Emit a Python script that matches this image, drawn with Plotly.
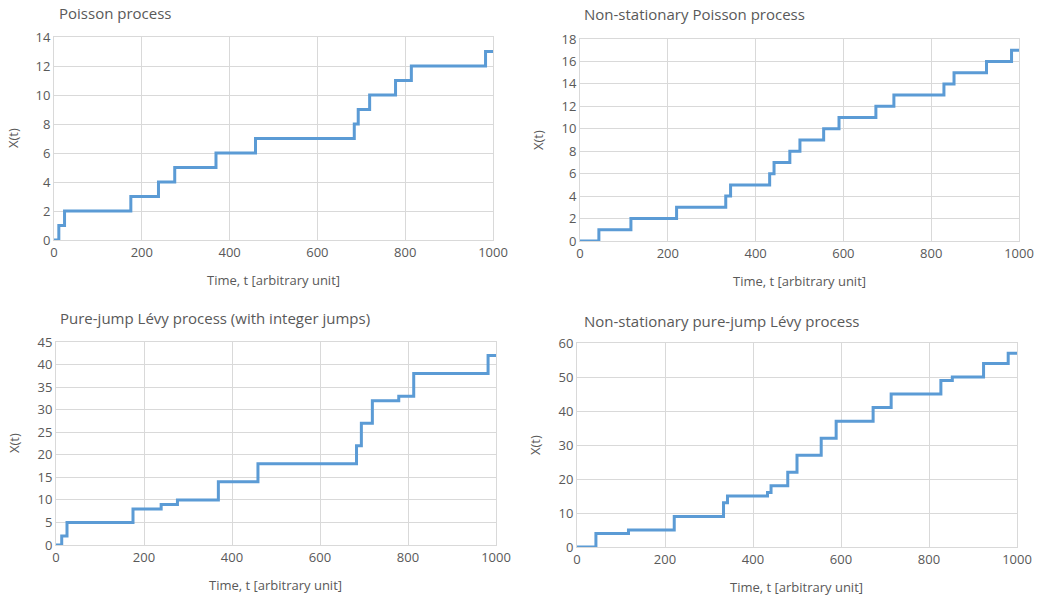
import plotly.graph_objects as go

# ---- data ----
poisson_times = [11, 24, 175, 238, 275, 369, 459, 684, 693, 719, 778, 814, 983]
poisson_values = [0, 1, 2, 3, 4, 5, 6, 7, 8, 9, 10, 11, 12, 13]

levy_times = [13, 25, 175, 239, 276, 369, 459, 683, 694, 719, 779, 813, 982]
levy_values = [0, 2, 5, 8, 9, 10, 14, 18, 22, 27, 32, 33, 38, 42]

ns_poisson_times = [43, 116, 220, 332, 343, 432, 442, 478, 501, 555, 590, 674, 715, 829, 852, 926, 983]
ns_poisson_values = [0, 1, 2, 3, 4, 5, 6, 7, 8, 9, 10, 11, 12, 13, 14, 15, 16, 17]

ns_levy_times = [43, 117, 221, 333, 342, 433, 441, 479, 500, 555, 589, 673, 714, 827, 853, 924, 980]
ns_levy_values = [0, 4, 5, 9, 13, 15, 16, 18, 22, 27, 32, 37, 41, 45, 49, 50, 54, 57]

t_end = 1000
titles = ["Poisson process", "Non-stationary Poisson process",
          "Pure-jump Lévy process (with integer jumps)", "Non-stationary pure-jump Lévy process"]
x_title = "Time, t [arbitrary unit]"
y_title = "X(t)"
x_ticks = [0, 200, 400, 600, 800, 1000]

W, H = 1039, 597
FONT = "Open Sans, Noto Sans, sans-serif"
TXT = "#595959"
GRID = "#D9D9D9"
LINE = "#5B9BD5"


def fx(px):
    return px / W


def fy(py):
    return 1 - py / H


# panel window-pixel boxes: (left, right, top, bottom), y-range, dtick, text positions
panels = [
    dict(times=poisson_times, vals=poisson_values, box=(54, 493, 37, 240), ymax=14, dy=2,
         tpos=(57, 13), xt=(273, 280), yt=(13, 138)),
    dict(times=ns_poisson_times, vals=ns_poisson_values, box=(580, 1019, 39, 241), ymax=18, dy=2,
         tpos=(582, 14), xt=(799, 281), yt=(538, 140)),
    dict(times=levy_times, vals=levy_values, box=(56, 496, 342, 545), ymax=45, dy=5,
         tpos=(58, 318), xt=(275, 585), yt=(14, 443)),
    dict(times=ns_levy_times, vals=ns_levy_values, box=(577, 1017, 343, 547), ymax=60, dy=10,
         tpos=(582, 321), xt=(796, 587), yt=(535, 445)),
]

fig = go.Figure()
annotations = []
layout_axes = {}
for i, p in enumerate(panels):
    n = i + 1
    xa = "x" if n == 1 else f"x{n}"
    ya = "y" if n == 1 else f"y{n}"
    xs = [0] + p["times"] + [t_end]
    ys = p["vals"] + [p["vals"][-1]]
    fig.add_trace(go.Scatter(x=xs, y=ys, mode="lines", line=dict(color=LINE, width=3, shape="hv"),
                             xaxis=xa, yaxis=ya, showlegend=False, hoverinfo="x+y"))
    l, r, t, b = p["box"]
    xkey = "xaxis" if n == 1 else f"xaxis{n}"
    ykey = "yaxis" if n == 1 else f"yaxis{n}"
    layout_axes[xkey] = dict(domain=[fx(l), fx(r)], anchor=ya, range=[0, t_end], tickvals=x_ticks,
                             showgrid=True, gridcolor=GRID, gridwidth=1, zeroline=False,
                             showline=True, linecolor=GRID, mirror=True, ticks="", automargin=False,
                             tickfont=dict(family=FONT, size=13, color=TXT), fixedrange=True)
    layout_axes[ykey] = dict(domain=[fy(b), fy(t)], anchor=xa, range=[0, p["ymax"]], dtick=p["dy"],
                             showgrid=True, gridcolor=GRID, gridwidth=1, zeroline=False,
                             showline=True, linecolor=GRID, mirror=True, ticks="", automargin=False,
                             tickfont=dict(family=FONT, size=13, color=TXT), fixedrange=True)
    annotations.append(dict(text=titles[i], x=fx(p["tpos"][0]), y=fy(p["tpos"][1]), xref="paper", yref="paper",
                            xanchor="left", yanchor="middle", showarrow=False,
                            font=dict(family=FONT, size=15, color=TXT)))
    annotations.append(dict(text=x_title, x=fx(p["xt"][0]), y=fy(p["xt"][1]), xref="paper", yref="paper",
                            xanchor="center", yanchor="middle", showarrow=False,
                            font=dict(family=FONT, size=13, color=TXT)))
    annotations.append(dict(text=y_title, x=fx(p["yt"][0]), y=fy(p["yt"][1]), xref="paper", yref="paper",
                            xanchor="center", yanchor="middle", showarrow=False, textangle=-90,
                            font=dict(family=FONT, size=13, color=TXT)))

fig.update_layout(width=W, height=H, margin=dict(l=0, r=0, t=0, b=0, autoexpand=False),
                  paper_bgcolor="white", plot_bgcolor="white", hovermode=False,
                  annotations=annotations, **layout_axes)

# remove the browser's default 8px body margin so the figure fills the window exactly
fig.write_html("out.html", config={"displayModeBar": False, "staticPlot": True},
               post_script="document.body.style.margin='0';document.body.style.overflow='hidden';")
